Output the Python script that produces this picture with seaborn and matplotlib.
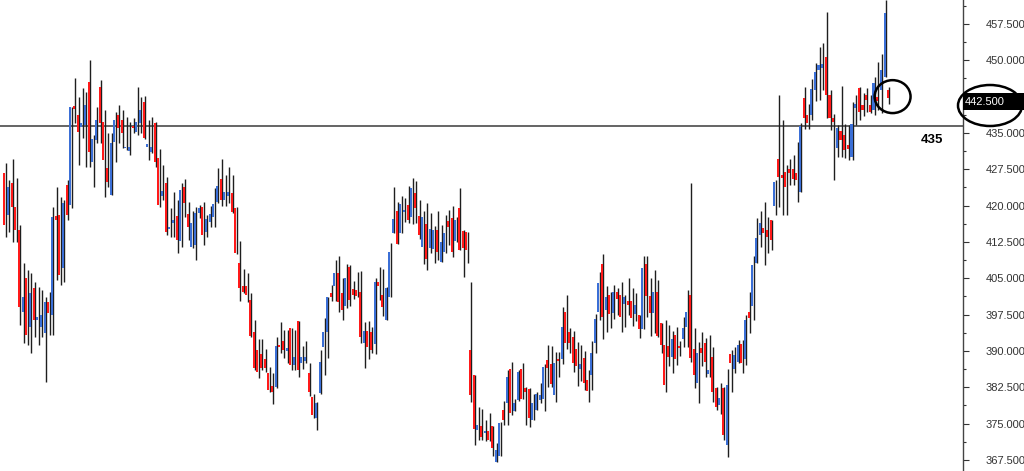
import numpy as np
import pandas as pd
import seaborn as sns
import matplotlib
matplotlib.use("Agg")
import matplotlib.pyplot as plt
from matplotlib.patches import Ellipse, Rectangle
from matplotlib.ticker import MultipleLocator

# OHLC values, one entry per candle
opens = [
    426.7, 418.1, 424.7, 419.7, 415.0, 398.0, 405.0, 395.0, 403.0, 396.4,
    395.0, 393.7, 400.1, 397.4, 417.9, 418.1, 407.1, 424.3, 420.1, 440.6,
    438.7, 436.2, 436.6, 445.5, 429.0, 433.6, 444.5, 437.3, 427.8, 422.2,
    433.1, 438.7, 437.7, 431.8, 431.3, 436.4, 435.2, 437.0, 441.4, 432.0,
    431.0, 437.0, 429.8, 422.0, 424.7, 415.1, 416.4, 417.8, 412.6, 423.8,
    418.3, 411.5, 411.9, 418.4, 419.8, 414.6, 416.7, 417.7, 420.8, 425.4,
    421.2, 422.0, 422.5, 419.5, 408.2, 403.3, 403.3, 400.5, 393.8, 390.2,
    389.4, 388.3, 385.4, 382.8, 382.5, 391.2, 392.0, 389.9, 394.7, 387.1,
    396.2, 387.5, 388.0, 385.5, 380.4, 376.1, 381.3, 390.9, 393.9, 402.0,
    403.3, 406.0, 402.0, 399.2, 407.3, 402.7, 402.6, 402.2, 391.7, 394.2,
    394.0, 391.4, 404.3, 401.5, 396.4, 401.2, 414.4, 418.9, 414.3, 418.6,
    420.1, 417.7, 422.7, 417.8, 411.5, 416.2, 411.2, 411.0, 415.0, 408.4,
    410.5, 416.9, 417.4, 412.7, 419.5, 414.8, 414.6, 390.2, 385.0, 373.7,
    374.4, 373.1, 373.5, 374.4, 367.1, 368.2, 377.8, 379.2, 386.2, 377.5,
    379.9, 386.2, 382.3, 382.1, 375.7, 377.8, 379.9, 380.0, 388.1, 387.3,
    380.9, 388.3, 388.3, 398.1, 393.8, 392.8, 390.3, 386.2, 388.5, 384.0,
    385.0, 391.7, 398.1, 408.0, 398.5, 401.6, 397.8, 402.2, 401.6, 399.7,
    400.2, 400.2, 397.6, 397.4, 394.5, 407.9, 401.4, 397.8, 402.2, 395.8,
    391.2, 391.0, 388.8, 393.3, 391.0, 392.4, 395.0, 401.6, 390.4, 383.3,
    390.6, 391.6, 385.2, 388.8, 382.3, 378.8, 382.3, 370.6, 389.4, 386.2,
    387.8, 391.4, 388.3, 398.1, 399.2, 408.1, 413.9, 415.3, 415.0, 417.0,
    419.9, 429.6, 426.3, 427.0, 427.5, 427.5, 426.7, 422.9, 442.2, 438.7,
    438.7, 443.9, 448.0, 448.5, 450.6, 442.8, 438.0, 431.8, 435.3, 434.6,
    432.5, 430.0, 440.1, 444.2, 440.8, 442.8, 440.8, 439.7, 442.5, 443.9,
    446.6, 443.9,
]
highs = [
    428.8, 425.3, 429.6, 425.7, 416.0, 408.2, 406.7, 406.1, 404.2, 403.2,
    402.6, 401.1, 402.2, 419.7, 423.8, 421.8, 421.2, 425.3, 440.4, 446.3,
    442.4, 444.3, 443.4, 450.0, 434.6, 440.4, 445.9, 439.8, 435.0, 435.0,
    439.3, 440.8, 439.8, 438.3, 437.3, 438.1, 444.5, 442.5, 442.6, 437.7,
    438.3, 437.3, 431.7, 428.4, 425.9, 419.5, 422.9, 421.2, 424.7, 425.5,
    420.8, 418.9, 419.8, 420.1, 420.8, 418.1, 419.9, 423.7, 427.8, 429.6,
    426.3, 428.0, 426.3, 419.8, 412.6, 407.0, 406.0, 401.9, 396.4, 392.4,
    392.4, 390.3, 386.6, 385.5, 392.9, 396.0, 394.3, 394.3, 394.8, 394.3,
    396.2, 391.0, 392.1, 387.5, 381.2, 379.5, 390.2, 396.8, 401.2, 403.6,
    408.8, 409.5, 405.0, 407.9, 407.8, 404.5, 406.2, 406.4, 396.0, 396.2,
    395.0, 405.0, 407.4, 406.9, 403.2, 412.2, 423.8, 420.8, 422.0, 421.6,
    424.1, 425.8, 425.0, 421.2, 418.8, 420.5, 418.4, 415.8, 418.8, 416.0,
    418.1, 419.1, 419.9, 417.7, 423.6, 415.0, 414.6, 404.3, 385.0, 378.4,
    378.0, 375.7, 377.2, 374.5, 371.0, 375.4, 379.7, 386.1, 387.8, 380.0,
    386.1, 387.6, 382.6, 382.3, 381.1, 381.5, 383.4, 387.3, 391.2, 391.0,
    389.8, 389.7, 399.1, 401.6, 394.7, 394.2, 391.9, 391.3, 389.9, 386.1,
    392.1, 397.6, 406.2, 410.0, 403.3, 402.2, 403.6, 402.9, 404.3, 401.6,
    405.0, 402.9, 402.0, 397.4, 409.5, 409.5, 405.0, 406.7, 404.6, 395.8,
    396.4, 395.4, 394.2, 394.9, 392.0, 397.0, 402.6, 424.7, 394.7, 391.9,
    394.0, 392.6, 393.3, 390.9, 382.6, 383.4, 382.6, 386.2, 390.2, 390.9,
    392.3, 392.3, 397.4, 402.2, 409.5, 417.4, 418.9, 420.8, 417.7, 417.0,
    425.3, 442.8, 437.7, 428.4, 429.6, 430.5, 433.2, 437.0, 444.4, 441.0,
    446.1, 449.4, 452.8, 453.5, 460.0, 443.9, 439.0, 436.7, 444.6, 436.9,
    436.7, 441.3, 442.8, 444.4, 443.2, 444.2, 442.8, 446.6, 449.7, 451.4,
    462.5, 444.4,
]
lows = [
    413.5, 414.6, 412.5, 412.5, 395.4, 391.6, 391.2, 389.6, 392.9, 391.2,
    392.9, 383.6, 393.3, 393.3, 404.6, 403.6, 404.2, 417.0, 419.5, 437.0,
    428.4, 434.0, 428.0, 428.0, 423.8, 432.9, 432.9, 421.8, 423.8, 422.2,
    429.0, 432.9, 431.9, 431.4, 430.5, 435.0, 434.6, 435.0, 433.8, 429.4,
    430.8, 428.0, 419.7, 421.2, 413.9, 413.5, 413.6, 410.3, 411.5, 417.7,
    412.9, 411.2, 408.8, 417.4, 411.9, 413.6, 415.6, 415.6, 420.6, 419.9,
    419.9, 420.5, 418.4, 410.0, 400.2, 401.9, 400.0, 392.9, 386.1, 384.3,
    386.1, 385.7, 381.6, 379.1, 382.4, 389.5, 388.5, 387.5, 386.1, 386.1,
    384.7, 386.2, 387.5, 380.6, 376.1, 373.7, 381.2, 385.0, 388.5, 400.4,
    400.2, 398.1, 396.3, 398.8, 399.2, 400.8, 401.2, 391.7, 386.4, 388.3,
    389.5, 389.3, 400.5, 397.2, 396.4, 401.2, 414.4, 412.1, 414.3, 416.7,
    416.4, 416.3, 416.5, 413.2, 407.9, 406.8, 410.2, 408.1, 408.8, 408.4,
    410.2, 411.9, 409.3, 412.5, 410.9, 405.3, 408.1, 379.5, 370.6, 371.5,
    371.6, 371.3, 371.3, 368.2, 367.1, 368.2, 374.7, 374.7, 376.8, 377.5,
    379.7, 380.0, 374.7, 374.3, 375.7, 377.8, 379.3, 377.5, 382.5, 382.5,
    379.5, 384.6, 387.3, 390.4, 389.5, 385.7, 382.8, 383.7, 381.9, 379.5,
    381.9, 389.5, 396.4, 392.4, 394.0, 394.7, 396.5, 397.4, 393.8, 395.0,
    397.4, 395.2, 396.1, 392.6, 394.5, 397.1, 393.1, 393.6, 392.9, 389.6,
    381.6, 386.8, 385.4, 387.1, 389.0, 390.9, 390.9, 387.8, 382.3, 379.3,
    386.8, 384.7, 384.7, 379.5, 377.7, 376.9, 371.5, 368.1, 381.6, 385.4,
    387.5, 385.4, 387.1, 393.6, 396.4, 408.1, 411.5, 407.8, 410.2, 410.9,
    418.1, 419.8, 418.1, 418.1, 424.3, 424.3, 420.8, 422.9, 435.8, 435.8,
    437.7, 441.5, 441.8, 443.9, 438.0, 435.6, 425.3, 430.1, 430.1, 429.8,
    429.4, 429.4, 436.7, 437.7, 438.4, 439.4, 439.1, 438.7, 439.7, 439.1,
    446.6, 441.0,
]
closes = [
    416.0, 423.8, 419.7, 415.0, 399.1, 401.1, 393.3, 402.0, 396.4, 397.0,
    397.4, 400.1, 397.8, 417.7, 417.0, 405.7, 420.5, 418.1, 440.4, 440.0,
    435.2, 437.0, 440.8, 431.1, 433.8, 437.7, 437.0, 429.4, 424.9, 432.9,
    437.7, 436.0, 435.0, 432.0, 432.1, 436.0, 437.3, 439.8, 434.0, 432.7,
    432.0, 429.0, 420.1, 423.1, 414.6, 415.6, 417.0, 412.9, 423.2, 420.5,
    415.6, 416.4, 418.4, 419.5, 413.9, 417.2, 418.3, 420.3, 424.1, 421.2,
    422.9, 422.9, 418.7, 410.2, 403.0, 402.2, 401.5, 393.0, 386.4, 385.7,
    386.4, 386.4, 382.0, 381.6, 391.0, 390.7, 390.2, 390.6, 387.1, 388.7,
    386.0, 388.8, 388.8, 381.6, 376.8, 379.3, 387.8, 393.9, 401.2, 401.2,
    406.0, 400.0, 398.5, 405.0, 400.5, 401.5, 401.3, 392.9, 394.2, 390.8,
    390.2, 404.3, 403.4, 399.1, 402.9, 410.5, 417.2, 412.1, 420.3, 419.1,
    417.1, 423.6, 419.6, 413.9, 417.7, 408.9, 415.1, 415.0, 410.5, 412.5,
    414.3, 415.5, 410.5, 417.0, 410.9, 411.2, 410.9, 380.9, 373.8, 374.7,
    372.3, 373.5, 371.6, 369.9, 369.6, 375.1, 375.7, 384.7, 377.1, 379.2,
    385.7, 380.0, 381.6, 376.1, 379.2, 381.1, 380.9, 386.7, 386.4, 383.2,
    387.4, 388.0, 395.0, 391.6, 391.6, 387.6, 386.8, 387.3, 383.3, 381.8,
    389.5, 396.5, 404.1, 397.0, 401.2, 397.6, 402.2, 400.7, 397.1, 401.1,
    399.5, 396.8, 399.5, 394.5, 407.1, 401.4, 397.8, 402.2, 393.1, 391.2,
    383.0, 388.8, 392.4, 388.3, 390.6, 394.7, 398.1, 388.5, 385.0, 389.5,
    389.5, 387.8, 386.0, 381.6, 378.4, 380.2, 372.7, 383.0, 387.5, 389.2,
    391.2, 387.5, 396.3, 396.8, 407.7, 413.3, 416.4, 414.3, 413.6, 412.9,
    424.9, 426.0, 425.6, 423.8, 426.8, 425.4, 425.3, 436.4, 438.0, 437.1,
    444.0, 447.5, 449.0, 449.2, 442.8, 438.0, 437.3, 436.0, 433.6, 431.5,
    431.6, 436.9, 441.0, 439.4, 439.7, 441.8, 439.4, 445.3, 441.5, 448.0,
    459.7, 442.2,
]

y_ticks = [367.5, 375.0, 382.5, 390.0, 397.5, 405.0, 412.5, 420.0,
           427.5, 435.0, 442.5, 450.0, 457.5]
level_price = 436.4
level_text = "435"
last_price = 442.5

sns.set_style("white")
plt.rcParams['font.family'] = ['Liberation Sans', 'DejaVu Sans']

df = pd.DataFrame({"open": opens, "high": highs, "low": lows, "close": closes})
df["idx"] = np.arange(len(df))
up = df["close"] >= df["open"]
body_bottom = df[["open", "close"]].min(axis=1)
body_height = (df["close"] - df["open"]).abs().clip(lower=0.3)

blue = "#3b6fd6"
red = "#ff1a1a"

fig = plt.figure(figsize=(10.24, 4.71), dpi=100)
ax = fig.add_axes([0, 0, 963 / 1024, 1])

# wicks, then bodies sitting just left of them
ax.vlines(df["idx"] + 0.15, df["low"], df["high"], color="#1e1e1e", linewidth=1.0, zorder=2)
ax.bar(df["idx"] - 0.2, body_height, bottom=body_bottom, width=0.55,
       color=np.where(up, blue, red), linewidth=0, zorder=3)

# support level
ax.axhline(level_price, color="#3a3a3a", linewidth=1.1, zorder=1)
ax.text(252.7, 433.5, level_text, fontsize=9.5, fontweight="bold",
        ha="center", va="center", color="black")

# circle round the last candle
ax.add_patch(Ellipse((len(df), 442.5), 9.8, 6.8, fill=False,
                     edgecolor="black", linewidth=1.8, zorder=5, clip_on=False))

ax.set_xlim(-1.363, 261.2)
ax.set_ylim(365.2, 462.45)
ax.set_xticks([])

ax.yaxis.tick_right()
ax.set_yticks(y_ticks)
ax.set_yticklabels([f"{v:.3f}" for v in y_ticks])
ax.yaxis.set_minor_locator(MultipleLocator(3.75))
ax.tick_params(axis="y", which="major", length=4.5, width=0.8, color="#333333",
               labelsize=8, labelcolor="#333333", pad=12)
ax.tick_params(axis="y", which="minor", length=2.5, width=0.8, color="#333333")

for s in ["top", "left", "bottom"]:
    ax.spines[s].set_visible(False)
ax.spines["right"].set_color("#444444")
ax.spines["right"].set_linewidth(1.0)

# last price box on the axis, with a hand-drawn style circle round it
fig.add_artist(Rectangle((963 / 1024, 1 - 110 / 471), 61 / 1024, 17 / 471,
                         transform=fig.transFigure, facecolor="black",
                         edgecolor="none", zorder=4))
fig.text(965 / 1024, 1 - 101.5 / 471, f"{last_price:.3f}", color="white",
         fontsize=8, ha="left", va="center", zorder=5)
fig.add_artist(Ellipse((990 / 1024, 1 - 105.5 / 471), 64 / 1024, 41 / 471,
                       transform=fig.transFigure, fill=False,
                       edgecolor="black", linewidth=1.8, zorder=6))

fig.savefig("out.png", dpi=100)
